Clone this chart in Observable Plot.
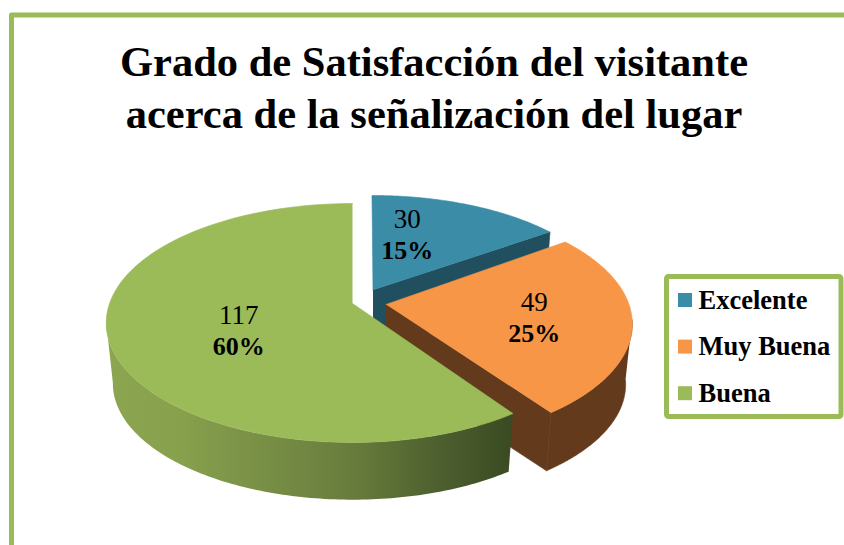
<!DOCTYPE html>
<html>
<head>
<meta charset="utf-8">
<script src="https://cdn.jsdelivr.net/npm/d3@7"></script>
<script src="https://cdn.jsdelivr.net/npm/@observablehq/plot@0.6"></script>
<style>
html,body{margin:0;padding:0;background:#fff;overflow:hidden}
svg{display:block}
</style>
</head>
<body>
<div id="chart"></div>
<script>
// ---- data ----
const categories = ["Excelente", "Muy Buena", "Buena"];
const counts = [30, 49, 117];
const percentLabels = ["15%", "25%", "60%"];
const titleLines = ["Grado de Satisfacción del visitante", "acerca de la señalización del lugar"];

// ---- colours ----
const topColors = ["#3b8ca6", "#f79646", "#9bbb59"];
const wallColors = ["#205060", "#633a1c", "url(#rimGreen)"];
const swatchColors = ["#3b8ca6", "#f79646", "#9bbb59"];
const frameColor = "#9bbb59";

// ---- layout of the perspective pie ----
const W = 844, H = 545;
const Rx = 243, Ry = 116.3, persp = 0.163, depth = 61, floorScale = 0.973;
const apexX = [372.5, 385.5, 352];
const apexY = [289.5, 304, 303];
const sliceScaleX = [0.975, 1, 1];
const sliceScaleY = [0.945, 1, 1];
const sliceTurn = [-0.005, -0.021, 0];
const labelRadius = [0.47, 0.6, 0.5];
const labelNudgeX = [-13.5, 2, 5];
const labelNudgeY = [-3, 12, 19];
const rimStart = [null, 1.72, null];
const rimEnd = [null, null, 4.555];

const arcs = d3.pie().sort(null).value(d => d)(counts);

function project(i, theta0, r, floor) {
  const theta = theta0 + sliceTurn[i];
  const u = r * Math.sin(theta), v = -r * Math.cos(theta);
  const s = 1 / (1 - persp * v);
  const f = floor ? floorScale : 1;
  return {
    x: apexX[i] + f * sliceScaleX[i] * Rx * u * s,
    y: apexY[i] + f * sliceScaleY[i] * Ry * v * s + (floor ? depth : 0)
  };
}
const sweep = (a, b) => d3.range(0, 121).map(t => a + (b - a) * t / 120);
const poly = (pts, fill) =>
  Plot.line(pts, {x: "x", y: "y", fill, stroke: fill, strokeWidth: 0.6, curve: "linear"});

const topFace = i => [
  project(i, 0, 0, false),
  ...sweep(arcs[i].startAngle, arcs[i].endAngle).map(t => project(i, t, 1, false))
];
const rimWall = (i, a, b) => {
  const th = sweep(a, b);
  return [...th.map(t => project(i, t, 1, false)), ...th.reverse().map(t => project(i, t, 1, true))];
};
const radialWall = (i, t) => [
  project(i, 0, 0, false), project(i, t, 1, false), project(i, t, 1, true), project(i, 0, 0, true)
];

const gradient = () => {
  const defs = d3.create("svg:defs");
  const g = defs.append("linearGradient").attr("id", "rimGreen")
    .attr("x1", 0).attr("x2", 1).attr("y1", 0).attr("y2", 0);
  [[0, "#8ba550"], [0.19, "#86a04c"], [0.36, "#7a9147"], [0.61, "#677c3c"], [0.82, "#4d5f2e"], [1, "#3a4a22"]]
    .forEach(([o, c]) => g.append("stop").attr("offset", o).attr("stop-color", c));
  return defs.node();
};

const labelPts = categories.map((c, i) => {
  const mid = (arcs[i].startAngle + arcs[i].endAngle) / 2;
  const p = project(i, mid, labelRadius[i], false);
  return {x: p.x + labelNudgeX[i], y: p.y + labelNudgeY[i], count: String(counts[i]), pct: percentLabels[i]};
});

// ---- legend layout ----
const legendBox = {x1: 666.5, x2: 841, y1: 276.5, y2: 416.5};
const legendRows = categories.map((c, i) => ({
  label: c, color: swatchColors[i],
  x1: 678, x2: 692, y1: 293 + i * 46.6, y2: 307 + i * 46.6,
  tx: 698, ty: 308 + i * 46.6
}));

const serif = "'Liberation Serif', serif";
const titleRows = titleLines.map((t, i) => ({t, x: 433.5, y: 75 + i * 52}));

const chart = Plot.plot({
  width: W, height: H,
  margin: 0,
  x: {type: "linear", domain: [0, W], range: [0, W], axis: null},
  y: {type: "linear", domain: [0, H], range: [0, H], axis: null},
  style: {background: "#fff", fontFamily: serif},
  marks: [
    gradient,
    // outer frame
    Plot.line([{x: W + 5, y: 14.5}, {x: 11, y: 14.5}, {x: 11, y: H + 5}],
      {x: "x", y: "y", stroke: frameColor, strokeWidth: 5, curve: "linear", strokeLinejoin: "round"}),
    // title
    Plot.text(titleRows, {x: "x", y: "y", text: "t", fontSize: 42.5, fontWeight: "bold",
      fontFamily: serif, fill: "#000", lineAnchor: "bottom", textAnchor: "middle"}),
    // Excelente
    poly(radialWall(0, arcs[0].endAngle), wallColors[0]),
    poly(topFace(0), topColors[0]),
    // Muy Buena
    poly(radialWall(1, arcs[1].endAngle), wallColors[1]),
    poly(rimWall(1, rimStart[1], arcs[1].endAngle), wallColors[1]),
    poly(topFace(1), topColors[1]),
    // Buena
    Plot.line(rimWall(2, arcs[2].startAngle, rimEnd[2]),
      {x: "x", y: "y", fill: wallColors[2], stroke: "none", curve: "linear"}),
    poly(topFace(2), topColors[2]),
    // data labels
    Plot.text(labelPts, {x: "x", y: d => d.y - 16, text: "count", fontSize: 27, fill: "#000",
      fontFamily: serif, lineAnchor: "bottom", textAnchor: "middle"}),
    Plot.text(labelPts, {x: "x", y: d => d.y + 15, text: "pct", fontSize: 26, fontWeight: "bold", fill: "#000",
      fontFamily: serif, lineAnchor: "bottom", textAnchor: "middle"}),
    // legend
    Plot.rect([legendBox], {x1: "x1", x2: "x2", y1: "y1", y2: "y2", fill: "#fff", stroke: frameColor,
      strokeWidth: 5, rx: 2, inset: 0}),
    Plot.rect(legendRows, {x1: "x1", x2: "x2", y1: "y1", y2: "y2", fill: "color", inset: 0}),
    Plot.text(legendRows, {x: "tx", y: "ty", text: "label", fontSize: 26.5, fontWeight: "bold", fill: "#000",
      fontFamily: serif, lineAnchor: "bottom", textAnchor: "start"})
  ],
  color: {type: "identity"}
});
document.getElementById("chart").appendChild(chart);
</script>
</body>
</html>
